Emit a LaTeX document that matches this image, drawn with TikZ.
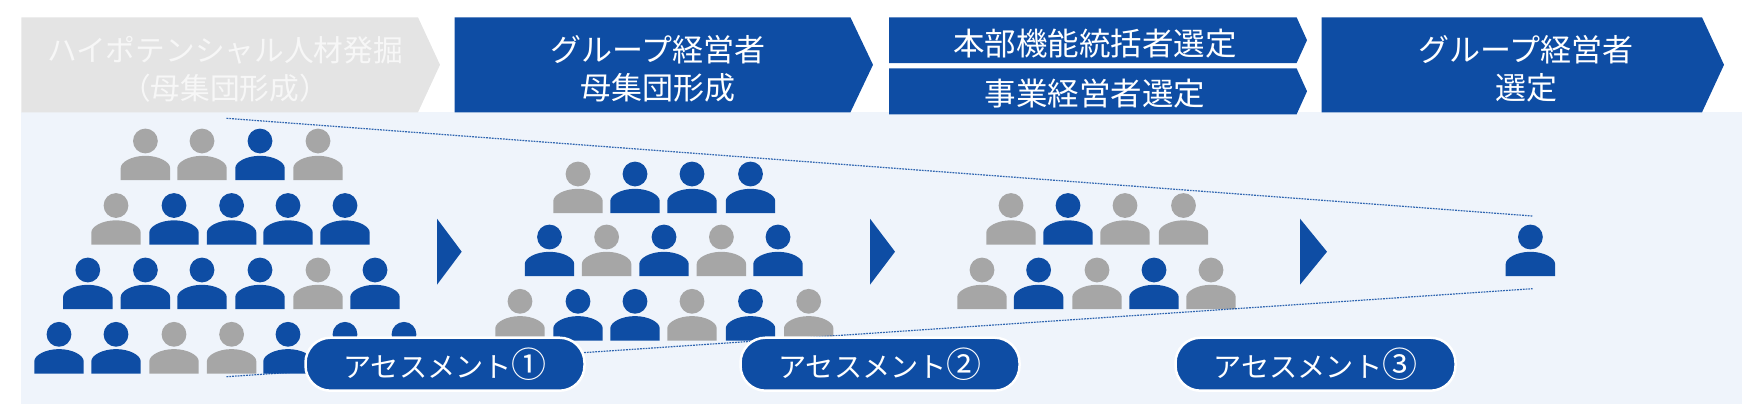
\documentclass[tikz,border=0pt]{standalone}
\usepackage{fontspec}
\setmainfont{Noto Sans CJK JP}
\definecolor{bluemain}{HTML}{0E4DA4}
\definecolor{greyperson}{HTML}{A6A6A6}
\definecolor{panelbg}{HTML}{EFF4FB}
\definecolor{greychev}{HTML}{E4E4E4}
\definecolor{greytext}{HTML}{F7F7F7}
\newcommand{\circnum}[1]{{\fontsize{35}{34}\selectfont #1}}
\tikzset{
  headtext/.style={text=white,font=\fontsize{31}{38}\selectfont,align=center,inner sep=0pt},
  pill/.style={fill=bluemain,draw=white,line width=2.5pt,rounded corners=25pt,minimum height=53pt,text height=26pt,text depth=0pt,text=white,font=\fontsize{28.2}{34}\selectfont,inner sep=0pt},
  funnel/.style={bluemain,line width=1.2pt,dash pattern=on 1.8pt off 1pt,opacity=.85},
}
% \chev{x0}{xshoulder}{xtip}{ytop}{ybottom}{colour}
\newcommand{\chev}[6]{\fill[#6] (#1,#4) -- (#2,#4) -- (#3,{(#4+#5)/2}) -- (#2,#5) -- (#1,#5) -- cycle;}
% \persn{cx}{head cy}{colour}
\newcommand{\persn}[3]{%
  \fill[#3] (#1,#2) circle[radius=12.4pt];
  \fill[#3] ({#1-24.7},{#2+39.2}) -- ({#1-24.7},{#2+27})
     .. controls ({#1-24.7},{#2+21}) and ({#1-13.6},{#2+14.8}) .. (#1,{#2+14.8})
     .. controls ({#1+13.6},{#2+14.8}) and ({#1+24.7},{#2+21}) .. ({#1+24.7},{#2+27})
     -- ({#1+24.7},{#2+39.2}) -- cycle;}
\newcommand{\tri}[2]{\fill[bluemain] (#1,218.7) -- (#2,251.7) -- (#1,284.7) -- cycle;}
\begin{document}
\begin{tikzpicture}[x=1pt,y=-1pt]
\useasboundingbox (0,0) rectangle (1758,410);
\fill[panelbg] (21,112.3) rectangle (1742,403.7);
\chev{21.4}{418}{440}{17.3}{112.3}{greychev}
\chev{454.6}{850.4}{873}{17.3}{112.3}{bluemain}
\chev{889}{1296.6}{1307}{17.3}{63}{bluemain}
\chev{889}{1296.6}{1307}{68.3}{114.3}{bluemain}
\chev{1321.6}{1702}{1724}{17.3}{112.3}{bluemain}
\node[headtext,text=greytext,font=\fontsize{29.7}{38}\selectfont] (h1) at (225,69) {ハイポテンシャル人材発掘\\（母集団形成）};
\node[headtext] (h2) at (658,69) {グループ経営者\\母集団形成};
\node[headtext,font=\fontsize{31.5}{38}\selectfont] (h3) at (1095,44) {本部機能統括者選定};
\node[headtext,font=\fontsize{31.5}{38}\selectfont] (h4) at (1095,94) {事業経営者選定};
\node[headtext] (h5) at (1526,69) {グループ経営者\\選定};
% group 1
\foreach \x/\c in {145.4/greyperson,202/greyperson,260/bluemain,318/greyperson} {\persn{\x}{141}{\c}}
\foreach \x/\c in {116/greyperson,174/bluemain,231.6/bluemain,288/bluemain,345/bluemain} {\persn{\x}{205.5}{\c}}
\foreach \x/\c in {87.8/bluemain,145.4/bluemain,202/bluemain,260/bluemain,318/greyperson,375/bluemain} {\persn{\x}{270}{\c}}
\foreach \x/\c in {59/bluemain,116/bluemain,174/greyperson,231.6/greyperson,288/bluemain,345/bluemain,404/bluemain} {\persn{\x}{334.3}{\c}}
% group 2
\foreach \x/\c in {578/greyperson,635/bluemain,692/bluemain,750.5/bluemain} {\persn{\x}{174}{\c}}
\foreach \x/\c in {549.5/bluemain,606.6/greyperson,664/bluemain,721.4/greyperson,778/bluemain} {\persn{\x}{237}{\c}}
\foreach \x/\c in {520/greyperson,578/bluemain,635/bluemain,692/greyperson,750.5/bluemain,808.7/greyperson} {\persn{\x}{301.3}{\c}}
% group 3
\foreach \x/\c in {1011/greyperson,1068/bluemain,1125/greyperson,1183.5/greyperson} {\persn{\x}{205.5}{\c}}
\foreach \x/\c in {982/greyperson,1038.6/bluemain,1097/greyperson,1154/bluemain,1211/greyperson} {\persn{\x}{270}{\c}}
% group 4
\persn{1530.4}{237}{bluemain}
% arrows between groups
\tri{437}{461.7}
\tri{870}{895}
\tri{1300}{1327}
% funnel lines
\coordinate (ftl) at (226.5,118.3);
\coordinate (ftr) at (1532.5,216);
\coordinate (fbl) at (226.5,376.7);
\coordinate (fbr) at (1532.5,288.7);
\draw[funnel] (ftl) -- (ftr);
\draw[funnel] (fbl) -- (fbr);
% assessment pills
\node[pill,minimum width=279pt] (a1) at (445,364.2) {アセスメント\circnum{①}};
\node[pill,minimum width=279pt] (a2) at (880,364.2) {アセスメント\circnum{②}};
\node[pill,minimum width=280pt] (a3) at (1315.5,364.2) {アセスメント\circnum{③}};
\end{tikzpicture}
\end{document}
